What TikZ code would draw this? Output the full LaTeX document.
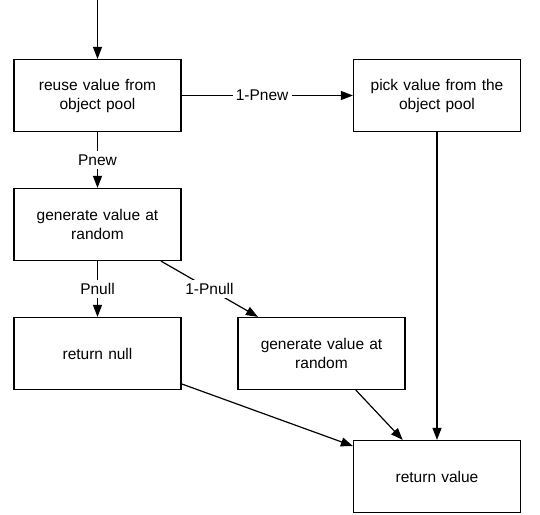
\documentclass[tikz,border=0pt]{standalone}
\usepackage{fontspec}
\setmainfont{Liberation Sans}
\usepackage{tikz}
\usetikzlibrary{arrows.meta,positioning}
\tikzset{
    %Define standard arrow tip
    >={Triangle[length=12pt,width=9pt]},
    %Define style for boxes
    block/.style={
           rectangle,
           draw=black,
           line width=1.2pt,
           minimum width=167pt,
           minimum height=72pt,
           text width=150pt,
           text centered},
    % Define arrow style
    arrow/.style={
           ->,
           line width=1.2pt,
           }
}
\begin{document}
\begin{tikzpicture}[x=1pt, y=1pt, node distance = 129pt, font=\fontsize{15.5}{19}\selectfont]
    \useasboundingbox (0,0) rectangle (540,-514);
    \node [block] (reuse) at (97.5,-95.5) {reuse value from\\object pool};
    \coordinate [above of=reuse, node distance=95.5pt] (entry);
    \node [block, below of=reuse] (gen1) {generate value at\\random};
    \node [block, below of=gen1] (null) {return null};
    \node [block, right of=reuse, node distance=339.5pt] (pick) {pick value from the\\object pool};
    \node [block, right of=null, node distance=224pt] (gen2) {generate value at\\random};
    \node [block, below of=pick, node distance=381pt] (retval) {return value};

	\path[->] (entry) edge[arrow] (reuse);
	\path[->] (reuse) edge[arrow] node[pos=0.47, anchor=center, fill=white] {1-Pnew} (pick);
	\path[->] (reuse) edge[arrow] node[anchor=center, fill=white] {Pnew} (gen1);
	\path[->] (gen1) edge[arrow] node[anchor=center, fill=white] {Pnull} (null);
	\path[->] (gen1) edge[arrow] node[anchor=center, fill=white] {1-Pnull} (gen2);
	\path[->] (pick) edge[arrow] (retval);
	\path[->] (null) edge[arrow] (retval);
	\path[->] (gen2) edge[arrow] (retval);
\end{tikzpicture}
\end{document}
